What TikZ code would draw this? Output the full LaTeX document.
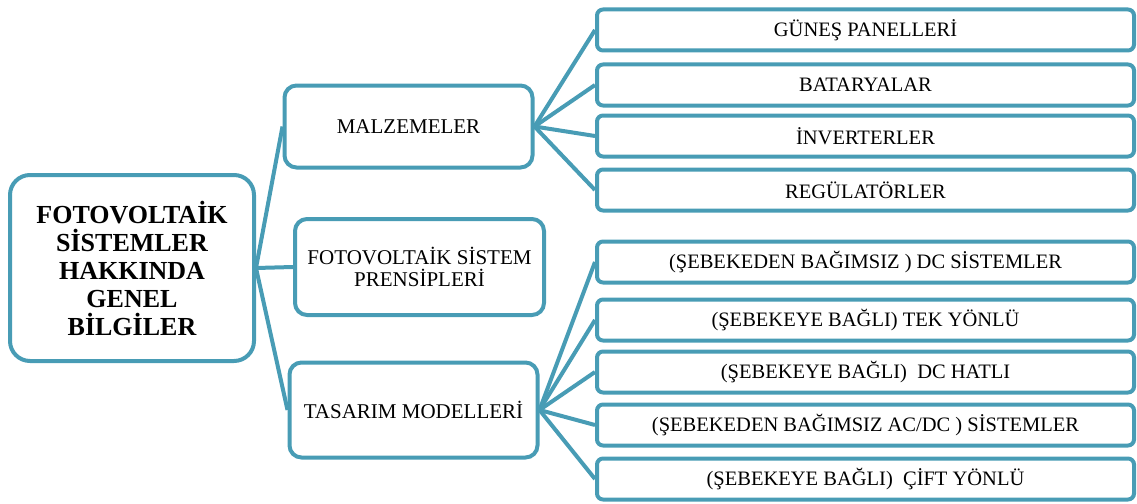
\documentclass[tikz,border=0pt]{standalone}
\usepackage{fontspec}
\setmainfont{Liberation Serif}
\definecolor{boxblue}{RGB}{72,156,181}
\tikzset{
  box/.style={draw=boxblue, line width=4pt, fill=white, align=center, inner sep=0pt},
  rootbox/.style={box, rounded corners=20pt, minimum width=244pt, minimum height=186pt, font=\fontsize{26}{28}\selectfont\bfseries},
  midbox/.style={box, rounded corners=12pt, minimum width=248pt, font=\fontsize{21}{21.5}\selectfont},
  leafbox/.style={box, rounded corners=6pt, minimum width=537pt, minimum height=41pt, font=\fontsize{20.5}{22}\selectfont},
  link/.style={draw=boxblue, line width=4pt}
}
\begin{document}
\begin{tikzpicture}[x=1pt,y=-1pt]
\useasboundingbox (0,0) rectangle (1137,503);
\node[rootbox] (root) at (132,268) {FOTOVOLTAİK\\SİSTEMLER\\HAKKINDA\\GENEL\\BİLGİLER};
\node[midbox, minimum height=82pt] (malz) at (408.5,126.5) {MALZEMELER};
\node[midbox, minimum width=249pt, minimum height=96pt] (pren) at (419.5,267) {FOTOVOLTAİK SİSTEM\\PRENSİPLERİ};
\node[midbox, minimum height=95pt] (tas) at (413.5,410) {TASARIM MODELLERİ};
\node[leafbox] (l1) at (865.5,30) {GÜNEŞ PANELLERİ};
\node[leafbox] (l2) at (865.5,85) {BATARYALAR};
\node[leafbox] (l3) at (865.5,136) {İNVERTERLER};
\node[leafbox] (l4) at (865.5,190) {REGÜLATÖRLER};
\node[leafbox] (t1) at (865.5,262) {(ŞEBEKEDEN BAĞIMSIZ ) DC SİSTEMLER};
\node[leafbox] (t2) at (865.5,320) {(ŞEBEKEYE BAĞLI) TEK YÖNLÜ};
\node[leafbox] (t3) at (865.5,372) {(ŞEBEKEYE BAĞLI)\ \ DC HATLI};
\node[leafbox] (t4) at (865.5,425) {(ŞEBEKEDEN BAĞIMSIZ AC/DC ) SİSTEMLER};
\node[leafbox] (t5) at (865.5,479) {(ŞEBEKEYE BAĞLI)\ \ ÇİFT YÖNLÜ};
\foreach \n in {malz,pren,tas} \draw[link] (root.east) -- (\n.west);
\foreach \n in {l1,l2,l3,l4} \draw[link] (malz.east) -- (\n.west);
\foreach \n in {t1,t2,t3,t4,t5} \draw[link] (tas.east) -- (\n.west);
\end{tikzpicture}
\end{document}
